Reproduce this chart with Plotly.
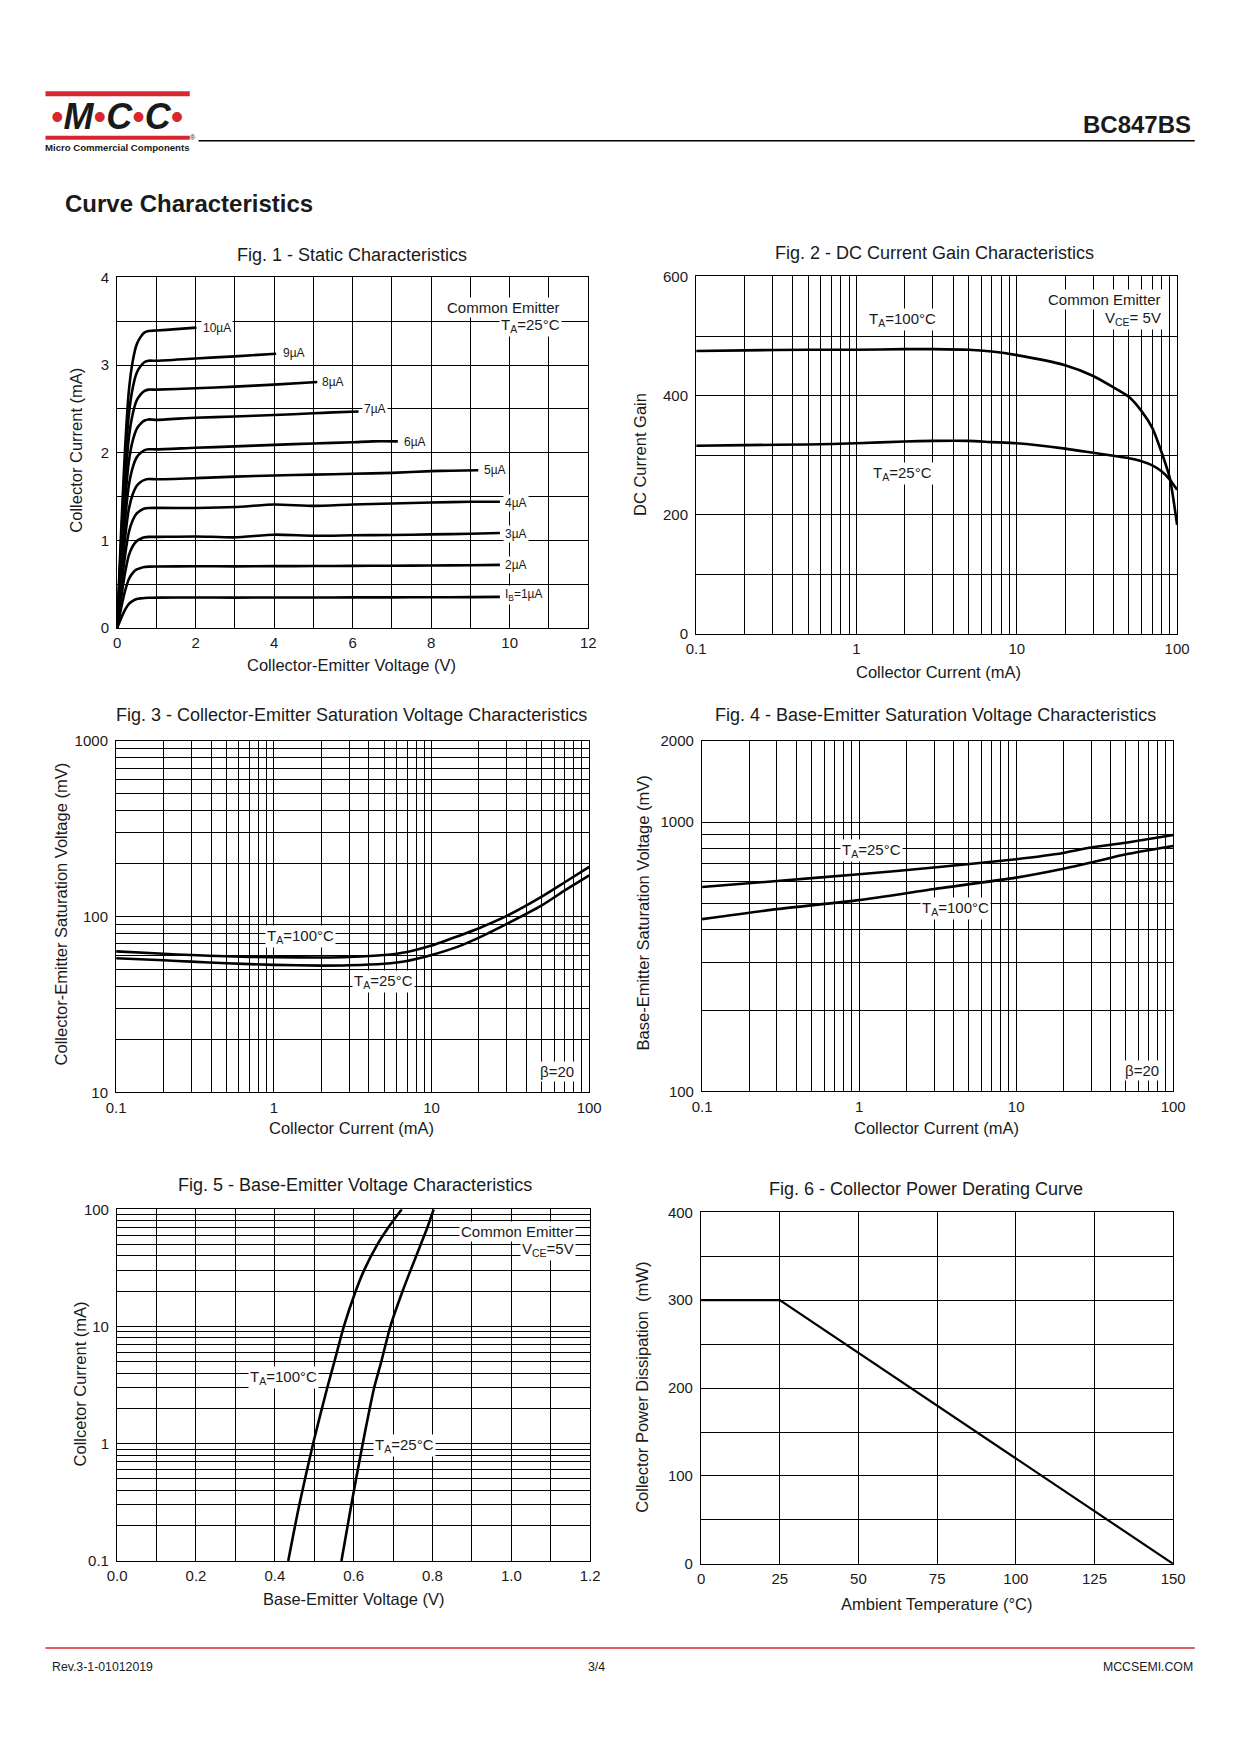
import plotly.graph_objects as go

W, H = 1240, 1754
FONT = "Liberation Sans, Arial, sans-serif"
TXT = "#1a1a1a"
RED = "#d7282f"

# ---------------- data ----------------
# Fig.1 static characteristics (Vce in V, Ic in mA)
vce_knee = [0, 0.1, 0.2, 0.3, 0.4, 0.5, 0.6, 0.7, 0.8]
ib_labels = ["I<sub>B</sub>=1µA", "2µA", "3µA", "4µA", "5µA", "6µA", "7µA", "8µA", "9µA", "10µA"]
ic_knee = [
    [0, 0.110, 0.207, 0.276, 0.310, 0.330, 0.338, 0.343, 0.345],
    [0, 0.224, 0.420, 0.560, 0.630, 0.668, 0.686, 0.697, 0.700],
    [0, 0.333, 0.624, 0.832, 0.936, 0.993, 1.019, 1.035, 1.040],
    [0, 0.438, 0.822, 1.096, 1.233, 1.308, 1.343, 1.363, 1.370],
    [0, 0.544, 1.020, 1.360, 1.530, 1.624, 1.666, 1.690, 1.700],
    [0, 0.653, 1.224, 1.632, 1.836, 1.948, 1.999, 2.030, 2.040],
    [0, 0.762, 1.428, 1.904, 2.142, 2.273, 2.332, 2.368, 2.380],
    [0, 0.870, 1.632, 2.176, 2.448, 2.598, 2.666, 2.706, 2.720],
    [0, 0.976, 1.830, 2.440, 2.745, 2.913, 2.989, 3.035, 3.050],
    [0, 1.085, 2.034, 2.712, 3.051, 3.237, 3.322, 3.373, 3.390],
]
vce_tail = [
    [1, 2, 3, 4, 5, 6, 7, 8, 9, 9.75],
    [1, 2, 3, 4, 5, 6, 7, 8, 9, 9.75],
    [1, 2, 3, 4, 5, 6, 7, 8, 9, 9.75],
    [1, 2, 3, 4, 5, 6, 7, 8, 9, 9.75],
    [1, 2, 3, 4, 5, 6, 7, 8, 8.5, 9.2],
    [1, 2, 3, 4, 5, 6, 6.5, 7.15],
    [1, 2, 3, 4, 5, 5.5, 6.15],
    [1, 2, 3, 4, 5.1],
    [1, 2, 3, 4.05],
    [1.0, 1.5, 2.02],
]
ic_tail = [
    [0.347, 0.348, 0.347, 0.349, 0.348, 0.350, 0.350, 0.351, 0.353, 0.355],
    [0.702, 0.705, 0.703, 0.706, 0.707, 0.709, 0.711, 0.713, 0.716, 0.720],
    [1.040, 1.045, 1.035, 1.065, 1.053, 1.058, 1.062, 1.068, 1.075, 1.085],
    [1.371, 1.370, 1.380, 1.410, 1.394, 1.410, 1.420, 1.432, 1.440, 1.440],
    [1.697, 1.710, 1.727, 1.740, 1.750, 1.760, 1.770, 1.790, 1.795, 1.800],
    [2.038, 2.057, 2.072, 2.090, 2.106, 2.120, 2.130, 2.130],
    [2.375, 2.400, 2.413, 2.430, 2.450, 2.460, 2.470],
    [2.720, 2.735, 2.754, 2.777, 2.807],
    [3.050, 3.076, 3.100, 3.130],
    [3.394, 3.410, 3.428],
]
ib_label_pos = [(9.84, 0.38), (9.84, 0.72), (9.84, 1.07), (9.84, 1.43), (9.29, 1.80),
                (7.25, 2.12), (6.24, 2.50), (5.18, 2.81), (4.18, 3.14), (2.14, 3.42)]

# Fig.2 DC current gain
ic2 = [0.1, 0.2, 0.5, 1, 2, 3, 5, 7, 10, 20, 30, 40, 50, 60, 70, 80, 90, 100]
hfe_100 = [475, 476, 477, 477, 478, 478, 477, 474, 468, 451, 433, 414, 398, 374, 346, 305, 262, 183]
hfe_25 = [316, 317, 318, 320, 323, 324, 324, 322, 320, 311, 304, 299, 295, 290, 283, 273, 259, 242]

# Fig.3 Vce(sat) (mV)
ic3 = [0.1, 0.2, 0.3, 0.5, 1, 2, 3, 5, 7, 10, 15, 20, 30, 50, 70, 100]
vcesat_100 = [63.5, 61.5, 60.5, 59.5, 58.8, 58.6, 59, 60.5, 63, 68.5, 78, 86, 101, 130, 157, 192]
vcesat_25 = [58, 56.5, 55.5, 54.3, 53.2, 52.7, 52.9, 54, 56, 60.5, 68, 76, 91, 116, 141, 172]

# Fig.4 Vbe(sat) (mV)
ic4 = [0.1, 0.3, 1, 3, 10, 20, 30, 50, 100]
vbesat_25 = [574, 604, 640, 678, 728, 768, 804, 838, 895]
vbesat_100 = [436, 475, 513, 564, 622, 671, 707, 759, 815]

# Fig.5 Vbe (V) vs Ic (mA)
ic5 = [0.1, 0.3, 1, 3, 5, 10, 20, 30, 50, 70, 100]
vbe_100 = [0.434, 0.462, 0.497, 0.533, 0.551, 0.575, 0.605, 0.626, 0.660, 0.688, 0.722]
vbe_25 = [0.569, 0.594, 0.623, 0.652, 0.670, 0.693, 0.724, 0.744, 0.770, 0.787, 0.803]

# Fig.6 power derating
temp6 = [0, 25, 150]
pd6 = [300, 300, 0]

# tick / grid values
lin12 = [0, 1, 2, 3, 4, 5, 6, 7, 8, 9, 10, 11, 12]
lin12_txt = ["0", "", "2", "", "4", "", "6", "", "8", "", "10", "", "12"]
ic_grid1 = [0, 0.5, 1, 1.5, 2, 2.5, 3, 3.5, 4]
ic_grid1_txt = ["0", "", "1", "", "2", "", "3", "", "4"]
log_grid = [0.1, 0.2, 0.3, 0.4, 0.5, 0.6, 0.7, 0.8, 0.9,
            1, 2, 3, 4, 5, 6, 7, 8, 9,
            10, 20, 30, 40, 50, 60, 70, 80, 90, 100]
log_grid_txt = ["0.1"] + [""] * 8 + ["1"] + [""] * 8 + ["10"] + [""] * 8 + ["100"]
hfe_grid = [0, 100, 200, 300, 400, 500, 600]
hfe_grid_txt = ["0", "", "200", "", "400", "", "600"]
mv_grid3 = [10, 20, 30, 40, 50, 60, 70, 80, 90,
            100, 200, 300, 400, 500, 600, 700, 800, 900, 1000]
mv_grid3_txt = ["10"] + [""] * 8 + ["100"] + [""] * 8 + ["1000"]
mv_grid4 = [100, 200, 300, 400, 500, 600, 700, 800, 900, 1000, 2000]
mv_grid4_txt = ["100", "", "", "", "", "", "", "", "", "1000", "2000"]
vbe_grid = [0.0, 0.1, 0.2, 0.3, 0.4, 0.5, 0.6, 0.7, 0.8, 0.9, 1.0, 1.1, 1.2]
vbe_grid_txt = ["0.0", "", "0.2", "", "0.4", "", "0.6", "", "0.8", "", "1.0", "", "1.2"]
t_grid = [0, 25, 50, 75, 100, 125, 150]
p_grid = [0, 50, 100, 150, 200, 250, 300, 350, 400]
p_grid_txt = ["0", "", "100", "", "200", "", "300", "", "400"]


def px(x):
    return x / W


def py(y):
    return 1 - y / H


# panel boxes in page pixels: (left, right, top, bottom)
boxes = {
    1: (101, 581, 263, 617),
    2: (691, 1181, 262, 623),
    3: (100, 582, 731, 1086),
    4: (697, 1177, 731, 1085),
    5: (101, 583, 1204, 1559),
    6: (696, 1177, 1207, 1562),
}

fig = go.Figure()
LW = 2.6
line = dict(color="black", width=LW, shape="spline", smoothing=0.6)

# Fig 1
for k in range(10):
    fig.add_trace(go.Scatter(x=vce_knee + vce_tail[k], y=ic_knee[k] + ic_tail[k],
                             mode="lines", line=line, xaxis="x", yaxis="y", hoverinfo="skip"))
# Fig 2
fig.add_trace(go.Scatter(x=ic2, y=hfe_100, mode="lines", line=line, xaxis="x2", yaxis="y2"))
fig.add_trace(go.Scatter(x=ic2, y=hfe_25, mode="lines", line=line, xaxis="x2", yaxis="y2"))
# Fig 3
fig.add_trace(go.Scatter(x=ic3, y=vcesat_100, mode="lines", line=line, xaxis="x3", yaxis="y3"))
fig.add_trace(go.Scatter(x=ic3, y=vcesat_25, mode="lines", line=line, xaxis="x3", yaxis="y3"))
# Fig 4
fig.add_trace(go.Scatter(x=ic4, y=vbesat_25, mode="lines", line=line, xaxis="x4", yaxis="y4"))
fig.add_trace(go.Scatter(x=ic4, y=vbesat_100, mode="lines", line=line, xaxis="x4", yaxis="y4"))
# Fig 5
fig.add_trace(go.Scatter(x=vbe_100, y=ic5, mode="lines", line=line, xaxis="x5", yaxis="y5"))
fig.add_trace(go.Scatter(x=vbe_25, y=ic5, mode="lines", line=line, xaxis="x5", yaxis="y5"))
# Fig 6
fig.add_trace(go.Scatter(x=temp6, y=pd6, mode="lines", line=dict(color="black", width=2.2),
                         xaxis="x6", yaxis="y6"))


def axis(n, which, typ, rng, vals, txt):
    l, r, t, b = boxes[n]
    dom = [px(l), px(r)] if which == "x" else [py(b), py(t)]
    return dict(domain=dom, type=typ, range=rng, tickmode="array", tickvals=vals, ticktext=txt,
                showgrid=True, gridcolor="black", gridwidth=1, showline=True, linecolor="black",
                linewidth=1.3, mirror=True, zeroline=False, ticks="", fixedrange=True,
                ticklabelstandoff=(1 if which == "x" else 4),
                tickfont=dict(size=15, color=TXT, family=FONT),
                anchor=("y" if which == "x" else "x") + ("" if n == 1 else str(n)))


layout_axes = {
    "xaxis": axis(1, "x", "linear", [0, 12], lin12, lin12_txt),
    "yaxis": axis(1, "y", "linear", [0, 4], ic_grid1, ic_grid1_txt),
    "xaxis2": axis(2, "x", "log", [-1, 2], log_grid, log_grid_txt),
    "yaxis2": axis(2, "y", "linear", [0, 600], hfe_grid, hfe_grid_txt),
    "xaxis3": axis(3, "x", "log", [-1, 2], log_grid, log_grid_txt),
    "yaxis3": axis(3, "y", "log", [1, 3], mv_grid3, mv_grid3_txt),
    "xaxis4": axis(4, "x", "log", [-1, 2], log_grid, log_grid_txt),
    "yaxis4": axis(4, "y", "log", [2, 3.30103], mv_grid4, mv_grid4_txt),
    "xaxis5": axis(5, "x", "linear", [0, 1.2], vbe_grid, vbe_grid_txt),
    "yaxis5": axis(5, "y", "log", [-1, 2], log_grid, log_grid_txt),
    "xaxis6": axis(6, "x", "linear", [0, 150], t_grid, [str(v) for v in t_grid]),
    "yaxis6": axis(6, "y", "linear", [0, 400], p_grid, p_grid_txt),
}

ann = []


def page_text(text, x, y, size=16.5, xanchor="center", angle=0, bold=False, family=FONT, color=TXT):
    ann.append(dict(text=("<b>%s</b>" % text) if bold else text, x=px(x), y=py(y),
                    xref="paper", yref="paper", showarrow=False, xanchor=xanchor, yanchor="middle",
                    textangle=angle, font=dict(size=size, color=color, family=family)))


def plot_text(n, text, x, y, xanchor="center", size=15):
    s = "" if n == 1 else str(n)
    ann.append(dict(text=text, x=x, y=y, xref="x" + s, yref="y" + s, showarrow=False,
                    xanchor=xanchor, yanchor="middle", bgcolor="white", borderpad=1,
                    font=dict(size=size, color=TXT, family=FONT)))


# header
page_text('<span style="color:%s">•</span><b><i>M</i></b><span style="color:%s">•</span>'
          '<b><i>C</i></b><span style="color:%s">•</span><b><i>C</i></b>'
          '<span style="color:%s">•</span>' % (RED, RED, RED, RED), 101, 100, size=36)
page_text("Micro Commercial Components", 101, 132, size=9.6, bold=True)
page_text("®", 178, 122, size=7)
page_text("BC847BS", 1197, 109, size=24, xanchor="right", bold=True)
page_text("Curve Characteristics", 46, 188, size=24, xanchor="left", bold=True)

# footer
page_text("Rev.3-1-01012019", 33, 1666, size=12.3, xanchor="left")
page_text("3/4", 589, 1666, size=12.3)
page_text("MCCSEMI.COM", 1199, 1666, size=12.3, xanchor="right")

# figure titles
page_text("Fig. 1 - Static Characteristics", 340, 240, size=18)
page_text("Fig. 2 - DC Current Gain Characteristics", 934, 238, size=18)
page_text("Fig. 3 - Collector-Emitter Saturation Voltage Characteristics", 340, 705, size=18)
page_text("Fig. 4 - Base-Emitter Saturation Voltage Characteristics", 935, 705, size=18)
page_text("Fig. 5 - Base-Emitter Voltage Characteristics", 343, 1179, size=18)
page_text("Fig. 6 - Collector Power Derating Curve", 925, 1183, size=18)

# axis titles
page_text("Collector-Emitter Voltage (V)", 340, 654)
page_text("Collector Current (mA)", 59, 437, angle=-90)
page_text("Collector Current (mA)", 938, 661)
page_text("DC Current Gain", 633, 442, angle=-90)
page_text("Collector Current (mA)", 340, 1122)
page_text("Collector-Emitter Saturation Voltage (mV)", 44, 906, angle=-90)
page_text("Collector Current (mA)", 936, 1122)
page_text("Base-Emitter Saturation Voltage (mV)", 637, 905, angle=-90)
page_text("Base-Emitter Voltage (V)", 342, 1597)
page_text("Collcetor Current (mA)", 63, 1380, angle=-90)
page_text("Ambient Temperature (°C)", 936, 1603)
page_text("Collector Power Dissipation  (mW)", 635, 1384, angle=-90)

# in-plot labels
for k in range(10):
    plot_text(1, ib_labels[k], ib_label_pos[k][0], ib_label_pos[k][1], xanchor="left", size=12)
plot_text(1, "Common Emitter", 11.34, 3.655, xanchor="right")
plot_text(1, "T<sub>A</sub>=25°C", 11.34, 3.45, xanchor="right")

plot_text(2, "T<sub>A</sub>=100°C", 0.29, 528)
plot_text(2, "T<sub>A</sub>=25°C", 0.29, 270)
plot_text(2, "Common Emitter", 1.914, 562, xanchor="right")
plot_text(2, "V<sub>CE</sub>= 5V", 1.914, 529, xanchor="right")

plot_text(3, "T<sub>A</sub>=100°C", 0.168, 1.886)
plot_text(3, "T<sub>A</sub>=25°C", 0.696, 1.631)
plot_text(3, "β=20", 1.914, 1.119, xanchor="right")

plot_text(4, "T<sub>A</sub>=25°C", 0.078, 2.895)
plot_text(4, "T<sub>A</sub>=100°C", 0.613, 2.680)
plot_text(4, "β=20", 1.92, 2.078, xanchor="right")

plot_text(5, "T<sub>A</sub>=100°C", 0.423, 0.564)
plot_text(5, "T<sub>A</sub>=25°C", 0.729, -0.019)
plot_text(5, "Common Emitter", 1.165, 1.815, xanchor="right")
plot_text(5, "V<sub>CE</sub>=5V", 1.165, 1.659, xanchor="right")

shapes = [
    dict(type="rect", xref="paper", yref="paper", x0=px(28), x1=px(175), y0=py(80), y1=py(75),
         fillcolor=RED, line=dict(width=0)),
    dict(type="rect", xref="paper", yref="paper", x0=px(28), x1=px(175), y0=py(124), y1=py(120),
         fillcolor=RED, line=dict(width=0)),
    dict(type="line", xref="paper", yref="paper", x0=px(184), x1=px(1199), y0=py(125), y1=py(125),
         line=dict(color="black", width=1.5)),
    dict(type="line", xref="paper", yref="paper", x0=px(28), x1=px(1199), y0=py(1647), y1=py(1647),
         line=dict(color=RED, width=1.5)),
]

fig.update_layout(width=W, height=H, margin=dict(l=0, r=0, t=0, b=0), autosize=False,
                  paper_bgcolor="white", plot_bgcolor="white", showlegend=False,
                  font=dict(family=FONT, color=TXT), annotations=ann, shapes=shapes,
                  **layout_axes)

fig.write_html("out.html")
